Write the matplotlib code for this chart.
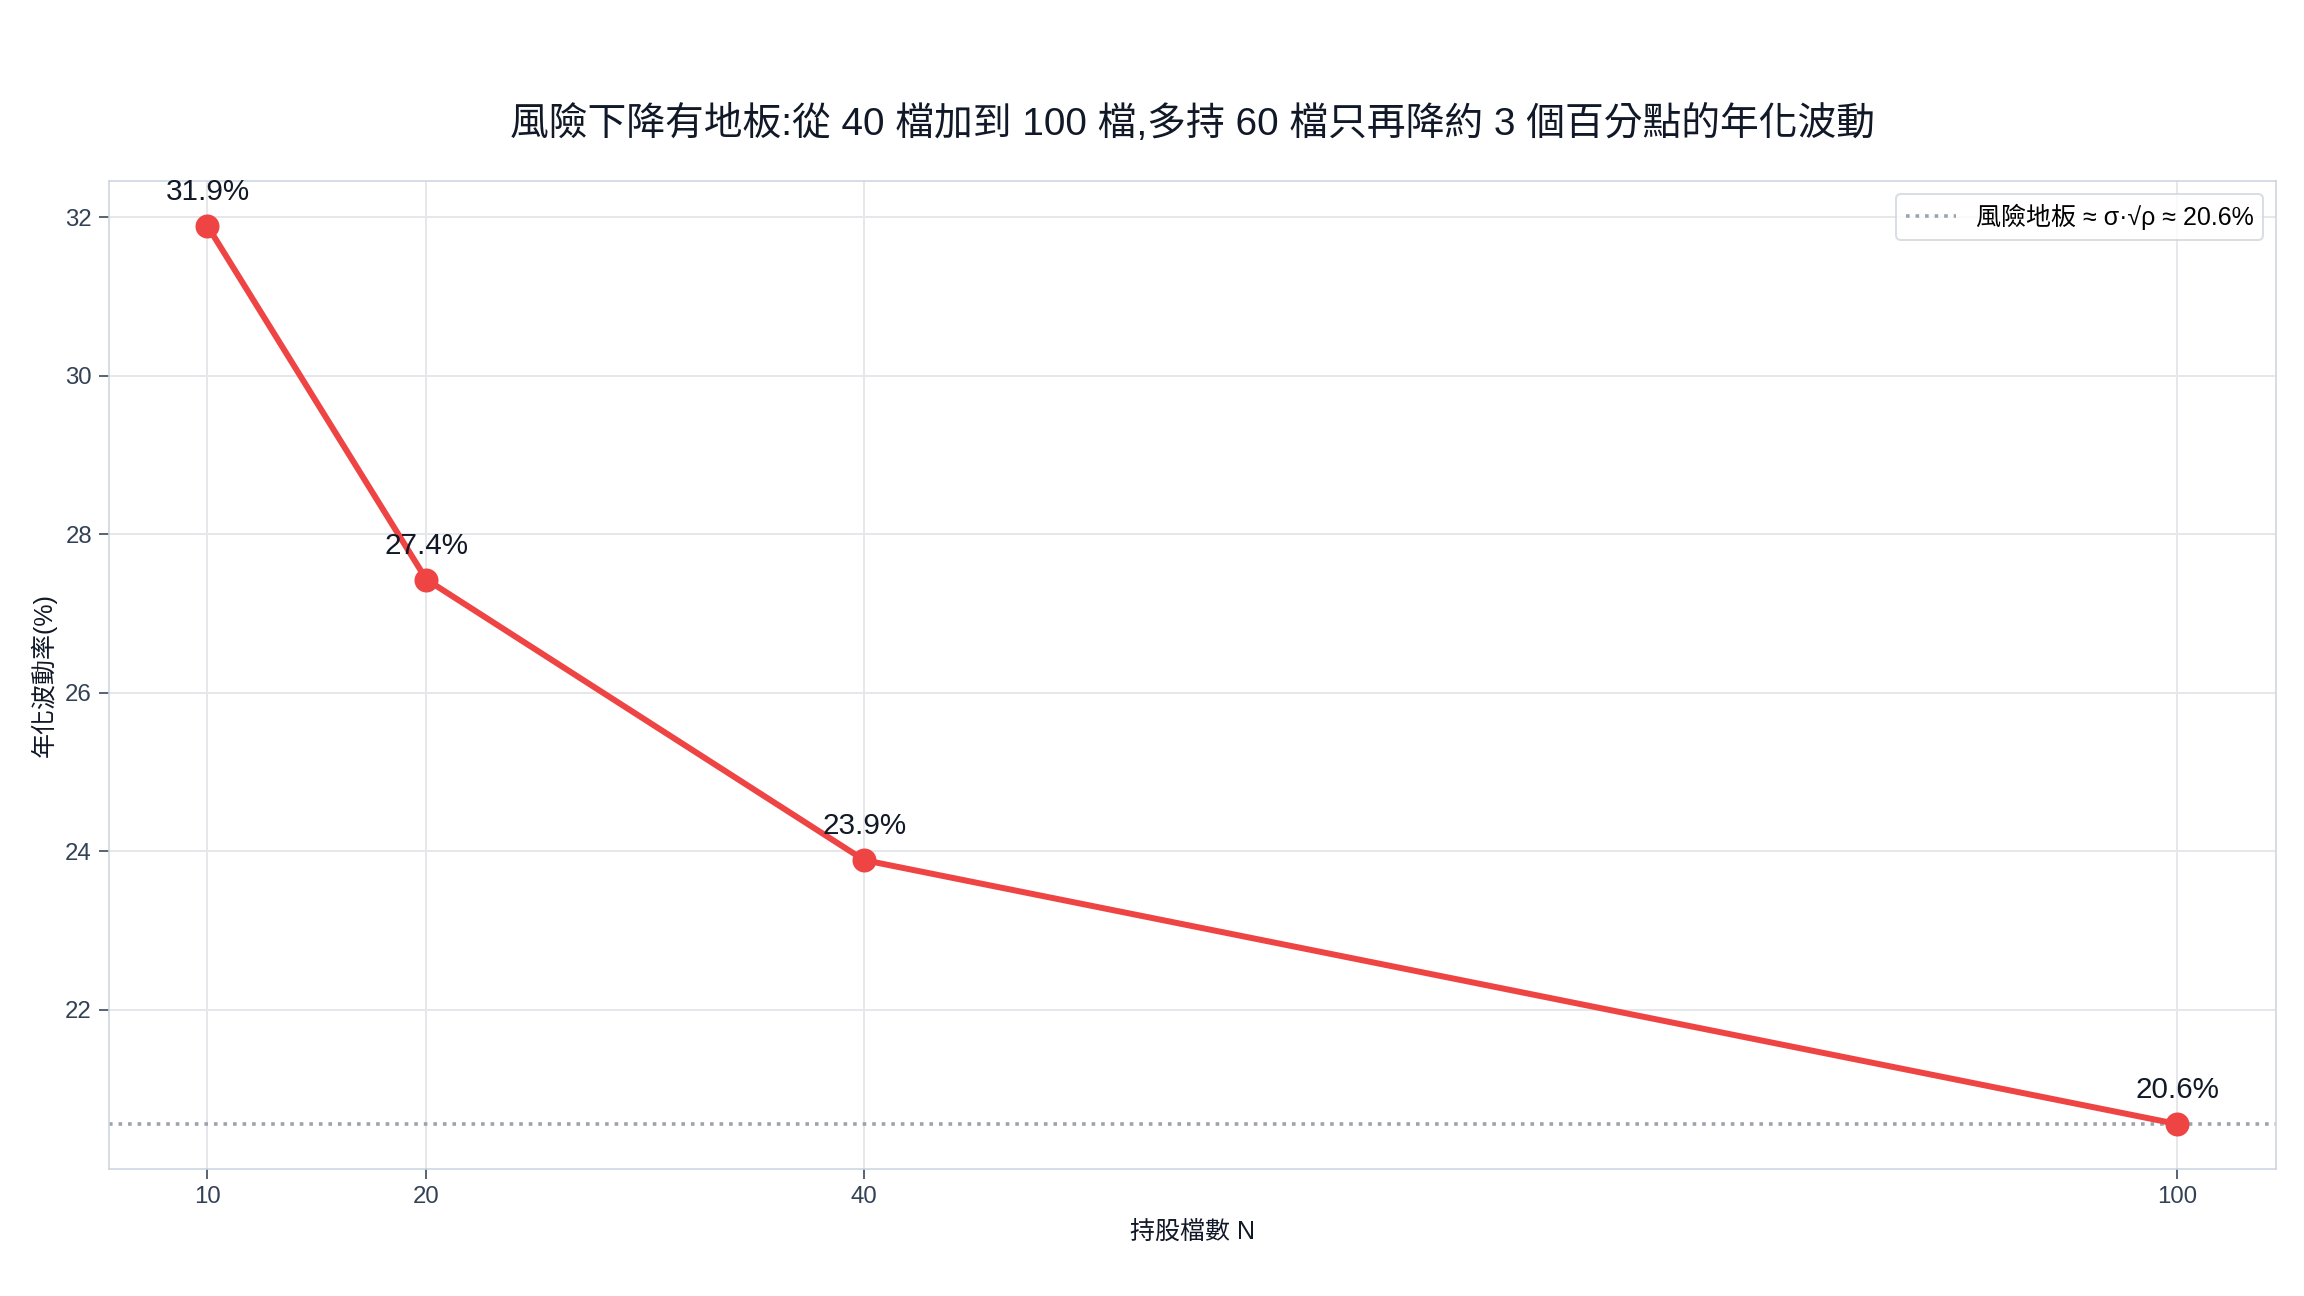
import matplotlib
matplotlib.use('Agg')
import matplotlib.pyplot as plt

plt.rcParams['font.family'] = ['Liberation Sans', 'Noto Sans CJK TC', 'DejaVu Sans']

# data
n_stocks = [10, 20, 40, 100]
vol = [31.89, 27.43, 23.89, 20.56]
labels = ['31.9%', '27.4%', '23.9%', '20.6%']
floor = 20.56
floor_label = '風險地板 ≈ σ·√ρ ≈ 20.6%'
title = '風險下降有地板:從 40 檔加到 100 檔,多持 60 檔只再降約 3 個百分點的年化波動'

fig = plt.figure(figsize=(16, 9), dpi=144)
ax = fig.add_axes([0.0473, 0.098, 0.9405, 0.7623])

ax.plot(n_stocks, vol, color='#ef4444', linewidth=3, marker='o', markersize=11, zorder=3)
ax.axhline(floor, color='#9ca3af', linestyle=':', linewidth=1.8, label=floor_label, zorder=2)

for x, y, t in zip(n_stocks, vol, labels):
    ax.annotate(t, (x, y), xytext=(0, 10), textcoords='offset points',
                ha='center', va='bottom', fontsize=14.8, color='#111827')

ax.set_xticks(n_stocks)
ax.set_yticks([22, 24, 26, 28, 30, 32])
ax.grid(True, color='#e5e7eb', linewidth=1)
ax.set_axisbelow(True)
for s in ax.spines.values():
    s.set_color('#cbd5e1')
ax.tick_params(colors='#334155', labelsize=12, length=5)

ax.set_xlabel('持股檔數 N', fontsize=12.5, color='#111827', labelpad=6)
ax.set_ylabel('年化波動率(%)', fontsize=12.5, color='#111827', labelpad=4)
ax.set_title(title, fontsize=19.4, color='#111827', pad=23)

leg = ax.legend(loc='upper right', fontsize=12.5, frameon=True, fancybox=True)
leg.get_frame().set_edgecolor('#d1d5db')

fig.savefig('out.png', dpi=144)
